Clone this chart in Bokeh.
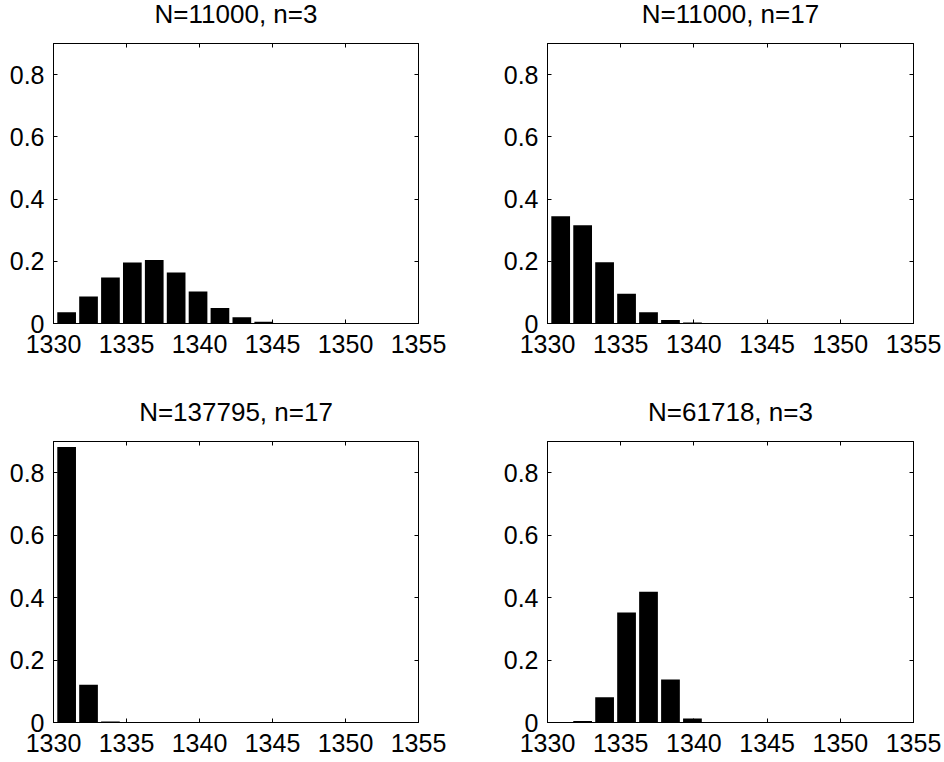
from bokeh.plotting import figure
from bokeh.layouts import column, row
from bokeh.models import FixedTicker, LinearAxis, Title
from bokeh.embed import file_html
from bokeh.resources import INLINE

# ---- data ----
bin_centers = [1330.9, 1332.4, 1333.9, 1335.4, 1336.9, 1338.4, 1339.9, 1341.4,
               1342.9, 1344.4, 1345.9, 1347.4, 1348.9, 1350.4, 1351.9, 1353.4, 1354.9]
freq_11000_n3 = [0.036, 0.087, 0.148, 0.196, 0.204, 0.164, 0.103, 0.050,
                 0.020, 0.006, 0.002, 0, 0, 0, 0, 0, 0]
freq_11000_n17 = [0.345, 0.316, 0.197, 0.096, 0.036, 0.011, 0.003, 0,
                  0, 0, 0, 0, 0, 0, 0, 0, 0]
freq_137795_n17 = [0.882, 0.121, 0.003, 0, 0, 0, 0, 0,
                   0, 0, 0, 0, 0, 0, 0, 0, 0]
freq_61718_n3 = [0, 0.005, 0.081, 0.352, 0.419, 0.138, 0.013, 0,
                 0, 0, 0, 0, 0, 0, 0, 0, 0]
titles = ["N=11000, n=3", "N=11000, n=17", "N=137795, n=17", "N=61718, n=3"]
x_ticks = [1330, 1335, 1340, 1345, 1350, 1355]
y_ticks = [0, 0.2, 0.4, 0.6, 0.8]
y_tick_labels = ["0", "0.2", "0.4", "0.6", "0.8"]

FONT = "Liberation Sans"
TICK_FS = "25px"
TITLE_FS = "26px"
SHIFT = 14  # top rows' extra room for the title (layout is pulled up by this)


def make_panel(title, values, width, height, bl, br, bt, bb):
    p = figure(width=width, height=height, x_range=(1330, 1355), y_range=(0, 0.9),
               output_backend="svg", toolbar_location=None,
               min_border_left=bl, min_border_right=br,
               min_border_top=bt, min_border_bottom=bb)
    p.title = Title(text=title, align="center", vertical_align="top",
                    text_font=FONT, text_font_size=TITLE_FS,
                    text_font_style="normal", text_color="black", standoff=25)
    p.vbar(x=bin_centers, top=values, width=1.28, bottom=0,
           fill_color="black", line_color=None)
    p.xgrid.visible = False
    p.ygrid.visible = False
    p.background_fill_color = "white"
    p.border_fill_color = "white"
    p.outline_line_color = "black"
    p.outline_line_width = 1
    p.outline_line_alpha = 1

    bottom_ax = p.below[0]
    left_ax = p.left[0]
    bottom_ax.ticker = FixedTicker(ticks=x_ticks)
    left_ax.ticker = FixedTicker(ticks=y_ticks)
    left_ax.major_label_overrides = {t: s for t, s in zip(y_ticks, y_tick_labels)}

    top_ax = LinearAxis(ticker=FixedTicker(ticks=x_ticks))
    right_ax = LinearAxis(ticker=FixedTicker(ticks=y_ticks))
    p.add_layout(top_ax, "above")
    p.add_layout(right_ax, "right")

    for ax in [bottom_ax, left_ax]:
        ax.major_label_text_font = FONT
        ax.major_label_text_font_size = TICK_FS
        ax.major_label_text_color = "black"
    bottom_ax.major_label_standoff = 11
    left_ax.major_label_standoff = 9

    for ax in [bottom_ax, left_ax, top_ax, right_ax]:
        ax.major_tick_in = 4
        ax.major_tick_out = 0
        ax.minor_tick_line_color = None
        ax.major_tick_line_color = "black"
        ax.axis_line_color = "black"
    for ax in [top_ax, right_ax]:
        ax.major_label_text_font_size = "0px"
        ax.major_label_standoff = 0
        ax.major_label_text_color = None
    return p


p1 = make_panel(titles[0], freq_11000_n3, 480, 380 + SHIFT, 53, 62, 43 + SHIFT, 57)
p2 = make_panel(titles[1], freq_11000_n17, 464, 380 + SHIFT, 67, 31, 43 + SHIFT, 57)
p3 = make_panel(titles[2], freq_137795_n17, 480, 382, 53, 62, 61, 40)
p4 = make_panel(titles[3], freq_61718_n3, 464, 382, 67, 31, 61, 40)

layout = column(row(p1, p2), row(p3, p4), styles={"margin-top": f"-{SHIFT}px"})
open("out.html", "w").write(file_html(layout, INLINE))
